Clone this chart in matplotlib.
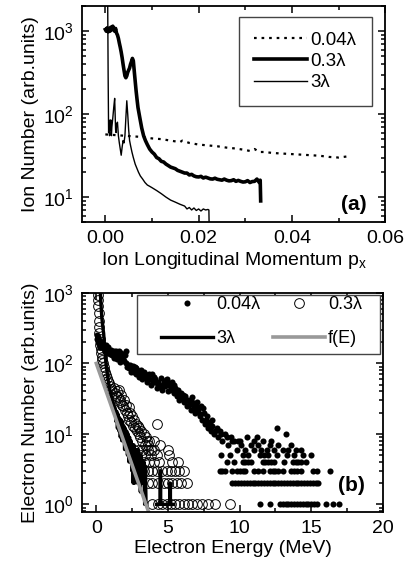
import matplotlib
matplotlib.use('Agg')
import matplotlib.pyplot as plt
import matplotlib.ticker as ticker
from matplotlib.patches import Rectangle
import numpy as np

plt.rcParams['font.family'] = ['Liberation Sans', 'DejaVu Sans']
plt.rcParams['mathtext.fontset'] = 'custom'
plt.rcParams['mathtext.rm'] = 'Liberation Sans'
plt.rcParams['font.size'] = 14

# ===== (a) ion momentum spectra =====
px_004 = [0.000, 0.002, 0.004, 0.006, 0.008, 0.010, 0.012, 0.014, 0.016, 0.0165,
          0.018, 0.020, 0.022, 0.024, 0.026, 0.028, 0.030, 0.031, 0.032, 0.033,
          0.034, 0.036, 0.038, 0.040, 0.042, 0.044, 0.046, 0.048, 0.050, 0.052]
ion_004 = [57, 56, 55, 54, 53, 51, 50, 48, 46, 48,
           45, 43, 42, 41, 39.5, 38.5, 37, 36, 38, 35,
           35, 34, 33.5, 33, 32.5, 32, 31.5, 30.5, 30, 31]

px_03 = [0.0000, 0.0002, 0.0004, 0.0006, 0.0008, 0.0010, 0.0012, 0.0014, 0.0016, 0.0018,
         0.0020, 0.0022, 0.0024, 0.0026, 0.0028, 0.0030, 0.0032, 0.0034, 0.0036, 0.0038,
         0.0040, 0.0042, 0.0044, 0.0046, 0.0048, 0.0050, 0.0052, 0.0054, 0.0056, 0.0058,
         0.0060, 0.0062, 0.0064, 0.0066, 0.0068, 0.0070, 0.0074, 0.0078, 0.0082, 0.0086,
         0.0090, 0.0095, 0.0100, 0.0105, 0.0110, 0.0115, 0.0120, 0.0125, 0.0130, 0.0135,
         0.0140, 0.0145, 0.0150, 0.0155, 0.0160, 0.0165, 0.0170, 0.0175, 0.0180, 0.0185,
         0.0190, 0.0195, 0.0200, 0.0205, 0.0210, 0.0215, 0.0220, 0.0225, 0.0230, 0.0235,
         0.0240, 0.0245, 0.0250, 0.0255, 0.0260, 0.0265, 0.0270, 0.0275, 0.0280, 0.0285,
         0.0290, 0.0295, 0.0300, 0.0305, 0.0310, 0.0315, 0.0320, 0.0325, 0.0330, 0.0332,
         0.0333]
ion_03 = [1050, 1000, 1100, 980, 1080, 1000, 1120, 1040, 1150, 1060,
          1000, 1080, 950, 900, 820, 720, 640, 560, 480, 400,
          340, 290, 275, 290, 320, 340, 360, 400, 430, 470,
          440, 330, 250, 190, 150, 120, 90, 68, 55, 48,
          43, 38, 35, 33, 30, 29, 27, 26.5, 25, 24,
          23, 22.5, 22, 21, 20.5, 20, 19.5, 19.5, 18.5, 18.8,
          18, 17.6, 17.5, 17.8, 17, 17.4, 17, 16.6, 16.5, 16.9,
          16.4, 16.2, 16, 16.5, 16, 15.7, 15.8, 16.2, 15.5, 15.9,
          15.5, 15.2, 15.3, 15.8, 15, 15.4, 15.5, 16.5, 15, 16,
          9]

px_3 = [0.0005, 0.0006, 0.0007, 0.0008, 0.0009, 0.0010, 0.0011, 0.0012, 0.0013, 0.0014,
        0.0016, 0.0018, 0.0020, 0.0021, 0.0022, 0.0023, 0.0024, 0.0026, 0.0028, 0.0030,
        0.0032, 0.0034, 0.0036, 0.0038, 0.0040, 0.0042, 0.0044, 0.0046, 0.0048, 0.0050,
        0.0052, 0.0054, 0.0057, 0.0060, 0.0064, 0.0068, 0.0071, 0.0075, 0.0080, 0.0085,
        0.0090, 0.0095, 0.0100, 0.0110, 0.0120, 0.0130, 0.0140, 0.0150, 0.0160, 0.0170,
        0.0175, 0.0180, 0.0185, 0.0190, 0.0195, 0.0200, 0.0205, 0.0210, 0.0215, 0.0220,
        0.0222, 0.0223]
ion_3 = [2500, 300, 60, 75, 55, 85, 65, 85, 55, 70,
         90, 120, 155, 100, 65, 60, 75, 80, 55, 45,
         38, 32, 40, 48, 45, 55, 90, 145, 100, 65,
         48, 42, 35, 30, 25, 22, 20, 18, 16.5, 15,
         14, 13.5, 13, 12, 11, 10, 9.2, 8.7, 8.2, 7.8,
         7.2, 7.5, 7, 7.4, 6.9, 7.2, 6.8, 7.2, 7, 7.1,
         7, 3]

# ===== (b) electron energy spectra =====
# 0.04 lambda, continuous part
e_004 = [0.05, 0.08, 0.12, 0.15, 0.20, 0.25, 0.30, 0.35, 0.40, 0.45,
         0.50, 0.55, 0.60, 0.70, 0.75, 0.80, 0.90, 1.00, 1.10, 1.20,
         1.30, 1.40, 1.50, 1.60, 1.70, 1.80, 1.90, 2.00, 2.10, 2.20,
         2.30, 2.40, 2.50, 2.60, 2.70, 2.80, 2.90, 3.00, 3.10, 3.20,
         3.30, 3.40, 3.50, 3.60, 3.70, 3.80, 3.90, 4.00, 4.10, 4.20,
         4.30, 4.40, 4.50, 4.60, 4.70, 4.80, 4.90, 5.00, 5.10, 5.20,
         5.30, 5.40, 5.50, 5.60, 5.70, 5.80, 5.90, 6.00, 6.10, 6.20,
         6.30, 6.40, 6.50, 6.60, 6.70, 6.80, 6.90, 7.00, 7.10, 7.20,
         7.30, 7.40, 7.50, 7.60, 7.70, 7.80, 7.90, 8.00, 8.10, 8.20,
         8.40, 8.50, 8.60, 8.80, 9.00, 9.20, 9.40, 9.60, 10.0, 10.5,
         0.10, 0.18, 0.28, 0.38, 0.48, 0.58, 0.65, 0.85, 0.95, 1.05,
         1.15, 1.25, 1.35, 1.45, 1.55, 1.65, 1.75, 1.85, 2.05, 2.15,
         2.35, 2.45, 2.55, 2.65, 2.75, 2.85, 3.05, 3.25, 3.45, 3.65,
         3.85, 4.05, 4.25, 4.45, 4.65, 4.85, 5.05, 5.25, 5.45, 5.65,
         5.85, 6.05, 6.25, 6.45, 6.65, 6.85, 7.05, 7.25, 7.45, 7.65,
         7.85, 8.05, 8.30, 8.70, 9.10, 9.50, 11.2, 12.6, 13.2, 11.0]
n_004 = [250, 220, 200, 240, 190, 210, 180, 200, 170, 190,
         160, 175, 150, 165, 140, 170, 145, 155, 130, 150,
         125, 140, 135, 150, 120, 125, 110, 130, 150, 95,
         85, 90, 80, 75, 90, 85, 70, 65, 80, 60,
         75, 70, 55, 65, 60, 50, 70, 55, 60, 45,
         55, 50, 62, 42, 55, 48, 60, 40, 50, 45,
         55, 38, 45, 35, 42, 30, 38, 32, 28, 35,
         25, 30, 27, 22, 33, 25, 20, 28, 22, 18,
         25, 16, 20, 14, 18, 12, 15, 11, 16, 10,
         12, 9, 11, 8, 10, 7, 9, 8, 8, 9,
         230, 205, 170, 185, 175, 160, 180, 155, 135, 145,
         140, 120, 150, 115, 125, 105, 140, 115, 100, 88,
         95, 75, 92, 85, 70, 80, 72, 68, 62, 72,
         58, 65, 52, 48, 50, 58, 52, 42, 50, 40,
         34, 36, 30, 26, 28, 23, 24, 19, 23, 16,
         14, 13, 11, 10, 9, 8, 9, 12, 10, 8]

# 0.04 lambda, single-count levels at high energy
levels_004 = [1, 2, 3, 4, 5, 6, 7, 8]
rows_004 = [
    [11.4, 12.1, 12.8, 13.0, 13.2, 13.4, 13.6, 13.8, 14.0, 14.2, 14.4, 14.6, 14.8, 15.0, 15.2, 15.4, 16.0, 16.5, 16.9],
    [9.5, 9.7, 9.9, 10.1, 10.3, 10.5, 10.7, 10.9, 11.1, 11.3, 11.5, 11.7, 11.9, 12.1, 12.3, 12.5, 12.7, 12.9,
     13.1, 13.3, 13.5, 13.7, 13.9, 14.1, 14.3, 14.5, 14.7, 14.9, 15.1, 15.3, 15.5],
    [8.6, 8.8, 9.0, 9.5, 9.8, 10.0, 10.2, 10.4, 11.0, 11.3, 11.6, 12.1, 12.3, 12.5, 12.7, 13.0,
     13.6, 13.8, 14.0, 14.3, 15.1, 15.4, 16.3],
    [9.1, 9.6, 10.2, 10.4, 10.6, 10.8, 11.6, 11.8, 12.0, 12.2, 12.4, 13.1, 13.7, 13.9, 14.1, 14.3, 14.6],
    [8.7, 9.3, 10.2, 10.6, 11.4, 11.7, 12.0, 12.6, 13.3, 13.8, 14.4, 15.0],
    [9.8, 10.4, 11.0, 11.5, 11.9, 12.4, 13.0, 13.4, 13.9, 14.3],
    [10.1, 10.8, 11.3, 12.1, 12.7, 13.6],
    [9.9, 11.6, 12.2],
]

# 0.3 lambda, continuous part
e_03 = [0.10, 0.12, 0.14, 0.16, 0.18, 0.20, 0.22, 0.25, 0.28, 0.30,
        0.33, 0.36, 0.40, 0.45, 0.50, 0.55, 0.60, 0.68, 0.75, 0.82,
        0.90, 0.98, 1.05, 1.12, 1.20, 1.28, 1.35, 1.42, 1.50, 1.55,
        1.62, 1.68, 1.75, 1.80, 1.88, 1.95, 2.00, 2.05, 2.12, 2.18,
        2.25, 2.30, 2.38, 2.45, 2.50, 2.58, 2.62, 2.70, 2.75, 2.82,
        2.88, 2.95, 3.00, 3.08, 3.15, 3.22, 3.30, 3.38, 3.45, 3.52,
        3.60, 3.70, 3.80, 4.00, 4.20, 4.45, 5.00]
n_03 = [950, 800, 650, 520, 400, 330, 270, 220, 180, 160,
        140, 125, 112, 100, 90, 82, 75, 68, 62, 57,
        52, 48, 44, 41, 45, 38, 35, 40, 33, 42,
        30, 28, 36, 26, 25, 30, 22, 26, 20, 18,
        24, 16, 20, 15, 18, 13, 16, 12, 14, 11,
        13, 10, 12, 9, 11, 8, 10, 7, 9, 8,
        7, 8, 6, 8, 14, 7, 6]

levels_03 = [1, 2, 3, 4, 5, 6]
rows_03 = [
    [3.9, 4.3, 4.6, 4.9, 5.2, 5.5, 5.8, 6.1, 6.4, 6.7, 7.0, 7.4, 7.8, 8.3, 9.3],
    [3.6, 3.9, 4.3, 4.7, 5.0, 5.3, 5.6, 5.9, 6.3],
    [3.3, 3.6, 3.9, 4.2, 4.6, 4.9, 5.2, 5.5, 5.8, 6.1],
    [3.0, 3.3, 3.7, 4.0, 4.4, 5.3, 5.7],
    [2.8, 3.1, 3.4, 3.8, 4.2, 5.1],
    [2.6, 2.9, 3.2, 3.6, 4.0],
]

# 3 lambda line
e_3 = [0.28, 0.32, 0.38, 0.45, 0.51, 0.57, 0.63, 0.70, 0.78, 0.86,
       0.95, 1.05, 1.15, 1.25, 1.32, 1.37, 1.42, 1.47, 1.52, 1.57,
       1.62, 1.67, 1.72, 1.77, 1.82, 1.87, 1.92, 1.97, 2.02, 2.07,
       2.12, 2.17, 2.22, 2.27, 2.32, 2.37, 2.42, 2.47, 2.52, 2.57,
       2.62, 2.67, 2.72, 2.77, 2.82, 2.87, 2.92, 2.97, 3.02, 3.07,
       3.12, 3.17, 3.22, 3.27, 3.32, 3.37, 3.42, 3.47, 3.52, 3.60,
       4.20, 4.44, 4.44, 4.49, 4.49, 4.60, 5.12, 5.12, 5.17, 5.17,
       5.40]
n_3 = [1000, 700, 450, 330, 268, 180, 123, 90, 68, 51,
       42, 34, 29, 25, 23, 15, 21, 12, 19, 11,
       17, 9, 16, 8, 15, 8, 13, 6, 12, 6,
       11, 5, 10, 4, 9, 4, 8, 3, 7, 2,
       7, 2, 6, 3, 6, 2, 6, 3, 5, 1.5,
       5, 2, 4, 2, 4, 1, 3.5, 1, 1, np.nan,
       1, 1, 3, 3, 1, 1, 1, 2, 2, 1,
       1]

# f(E) fit
e_fit = [0.0, 3.65]
n_fit = [100, 0.78]

fig = plt.figure(figsize=(4.07, 5.68), dpi=100)
ax1 = fig.add_axes([0.2015, 0.609, 0.745, 0.380])
ax2 = fig.add_axes([0.2015, 0.0986, 0.7395, 0.3856])

ax1.plot(px_004, ion_004, color='black', lw=1.6, ls=(0, (1.2, 2.2)), label='0.04\u03bb')
ax1.plot(px_03, ion_03, color='black', lw=2.6, label='0.3\u03bb')
ax1.plot(px_3, ion_3, color='black', lw=1.0, label='3\u03bb')
ax1.set_yscale('log')
ax1.set_xlim(-0.005, 0.06)
ax1.set_ylim(5, 2000)
ax1.xaxis.set_major_locator(ticker.MultipleLocator(0.02))
ax1.xaxis.set_minor_locator(ticker.MultipleLocator(0.01))
ax1.xaxis.set_major_formatter(ticker.FormatStrFormatter('%.2f'))
ax1.set_xlabel(r'Ion Longitudinal Momentum p$_\mathregular{x}$', labelpad=2)
ax1.set_ylabel('Ion Number (arb.units)', labelpad=3)
leg1 = ax1.legend(loc='upper right', bbox_to_anchor=(0.955, 0.952), fontsize=13.5,
                  handlelength=2.8, handletextpad=0.2, labelspacing=0.22,
                  borderpad=0.8, borderaxespad=0, fancybox=False, framealpha=1,
                  edgecolor='#444444')
leg1.get_frame().set_linewidth(1.0)
ax1.text(0.895, 0.08, '(a)', transform=ax1.transAxes, fontsize=15,
         fontweight='bold', ha='center', va='center')

ax2.plot(e_004, n_004, 'o', color='black', ms=4.4, mew=0, label='0.04\u03bb')
for lv, row in zip(levels_004, rows_004):
    ax2.plot(row, [lv] * len(row), 'o', color='black', ms=4.4, mew=0)
ax2.plot(e_03, n_03, 'o', mfc='none', mec='black', ms=7, mew=0.7, label='0.3\u03bb')
for lv, row in zip(levels_03, rows_03):
    ax2.plot(row, [lv] * len(row), 'o', mfc='none', mec='black', ms=7, mew=0.7)
ax2.plot(e_3, n_3, color='black', lw=2.4, label='3\u03bb')
ax2.plot(e_fit, n_fit, color='#999999', lw=2.6, label='f(E)')
ax2.set_yscale('log')
ax2.set_xlim(-1, 20)
ax2.set_ylim(0.78, 1000)
ax2.xaxis.set_major_locator(ticker.MultipleLocator(5))
ax2.xaxis.set_minor_locator(ticker.MultipleLocator(2.5))
ax2.set_xlabel('Electron Energy (MeV)', labelpad=2)
ax2.set_ylabel('Electron Number (arb.units)', labelpad=3)

# legend (b): box drawn separately since it is wider than its entries
ax2.add_patch(Rectangle((0.183, 0.721), 0.807, 0.27, transform=ax2.transAxes,
                        facecolor='white', edgecolor='#444444', lw=1.0, zorder=4))
h, l = ax2.get_legend_handles_labels()
order = [0, 2, 1, 3]
leg2 = ax2.legend([h[i] for i in order], [l[i] for i in order], ncol=2,
                  loc='upper left', bbox_to_anchor=(0.262, 0.985), fontsize=13,
                  handlelength=2.9, handletextpad=0.15, labelspacing=0.95,
                  columnspacing=0.7, borderpad=0, borderaxespad=0, frameon=False)
leg2.set_zorder(5)
ax2.text(0.895, 0.123, '(b)', transform=ax2.transAxes, fontsize=15,
         fontweight='bold', ha='center', va='center')

for ax in (ax1, ax2):
    ax.yaxis.set_major_locator(ticker.LogLocator(base=10))
    ax.yaxis.set_minor_locator(ticker.LogLocator(base=10, subs=np.arange(2, 10)))
    ax.yaxis.set_minor_formatter(ticker.NullFormatter())
    ax.tick_params(which='both', direction='in', top=True, right=True, width=1.1)
    ax.tick_params(which='major', length=5, pad=6)
    ax.tick_params(which='minor', length=3)
    for sp in ax.spines.values():
        sp.set_linewidth(1.3)

fig.savefig('out.png', dpi=100)
